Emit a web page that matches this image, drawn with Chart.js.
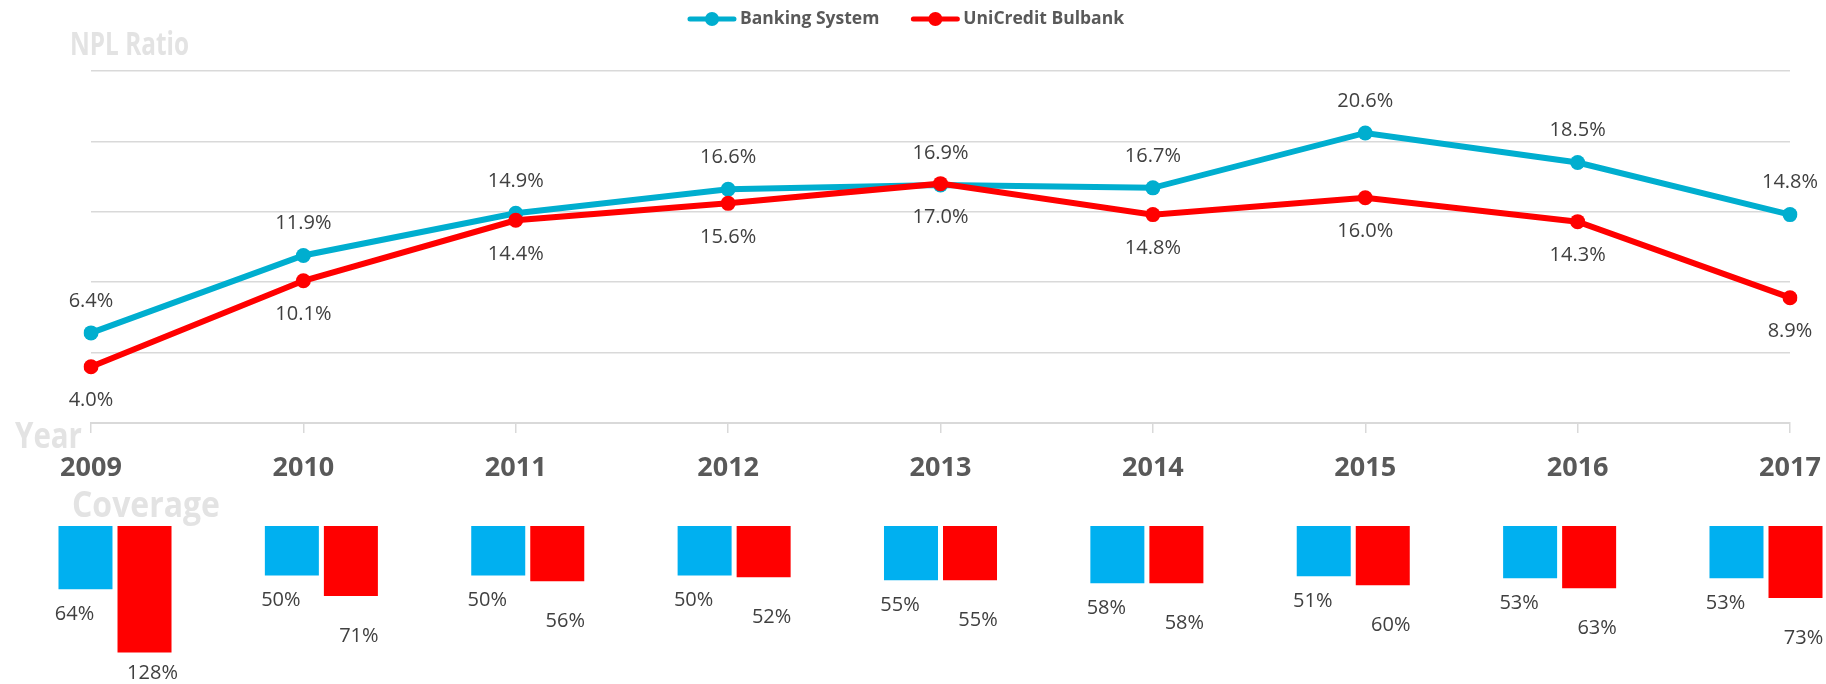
<!DOCTYPE html>
<html>
<head>
<meta charset="utf-8">
<script src="https://cdn.jsdelivr.net/npm/chart.js@4"></script>
<style>
  html, body { margin: 0; padding: 0; background: #fff; overflow: hidden; }
  canvas { position: absolute; left: 0; top: 0; }
</style>
</head>
<body>
<canvas id="coverage" width="1826" height="684"></canvas>
<canvas id="npl" width="1826" height="684"></canvas>
<script>
// data
const years = ['2009', '2010', '2011', '2012', '2013', '2014', '2015', '2016', '2017'];
const bankingNpl = [6.4, 11.9, 14.9, 16.6, 16.9, 16.7, 20.6, 18.5, 14.8];
const bulbankNpl = [4.0, 10.1, 14.4, 15.6, 17.0, 14.8, 16.0, 14.3, 8.9];
const bankingCoverage = [64, 50, 50, 50, 55, 58, 51, 53, 53];
const bulbankCoverage = [128, 71, 56, 52, 55, 58, 60, 63, 73];

const FONT = '"Open Sans", "Liberation Sans", sans-serif';
const blueLine = '#00AECF';
const blueBar = '#00B0F0';
const red = '#FF0000';
const gridColor = '#D9D9D9';
const labelColor = '#404040';
const faint = '#E3E3E3';

// gray captions, squeezed to the width they have in the picture
function caption(ctx, text, x, baseline, size, width) {
    ctx.save();
    ctx.font = 'bold ' + size + 'px ' + FONT;
    const w = ctx.measureText(text).width;
    ctx.translate(x, baseline);
    ctx.scale(width / w, 1);
    ctx.fillStyle = faint;
    ctx.textBaseline = 'alphabetic';
    ctx.textAlign = 'left';
    ctx.fillText(text, 0, 0);
    ctx.restore();
}

const captions = {
    id: 'captions',
    beforeDraw(chart) {
        const ctx = chart.ctx;
        caption(ctx, 'NPL Ratio', 70, 55, 33, 119);
        caption(ctx, 'Year', 15, 448, 35, 67);
        caption(ctx, 'Coverage', 72, 517, 35, 148);
    }
};

// legend: line with a dot, then bold text
const lineLegend = {
    id: 'lineLegend',
    afterDraw(chart) {
        const ctx = chart.ctx;
        const ds = chart.data.datasets;
        ctx.save();
        ctx.font = 'bold 17.5px ' + FONT;
        const markW = 48, gapText = 4, gapItem = 32;
        let total = 0;
        ds.forEach((d, i) => {
            total += markW + gapText + ctx.measureText(d.label).width;
            if (i < ds.length - 1) total += gapItem;
        });
        let x = 906 - total / 2;
        const y = 19;
        ds.forEach(d => {
            ctx.strokeStyle = d.borderColor;
            ctx.lineWidth = 5;
            ctx.lineCap = 'round';
            ctx.beginPath();
            ctx.moveTo(x + 2, y);
            ctx.lineTo(x + markW - 2, y);
            ctx.stroke();
            ctx.fillStyle = d.borderColor;
            ctx.beginPath();
            ctx.arc(x + markW / 2, y, 7, 0, Math.PI * 2);
            ctx.fill();
            x += markW + gapText;
            ctx.fillStyle = '#595959';
            ctx.textBaseline = 'middle';
            ctx.textAlign = 'left';
            ctx.fillText(d.label, x, y);
            x += ctx.measureText(d.label).width + gapItem;
        });
        ctx.restore();
    }
};

// value labels next to the points
const pointLabels = {
    id: 'pointLabels',
    afterDatasetsDraw(chart) {
        const ctx = chart.ctx;
        ctx.save();
        ctx.font = '20px ' + FONT;
        ctx.fillStyle = labelColor;
        ctx.textAlign = 'center';
        ctx.textBaseline = 'middle';
        chart.data.datasets.forEach((d, i) => {
            chart.getDatasetMeta(i).data.forEach((pt, j) => {
                ctx.fillText(d.data[j].toFixed(1) + '%', pt.x, pt.y + d.labelDy);
            });
        });
        ctx.restore();
    }
};

const barLabels = {
    id: 'barLabels',
    afterDatasetsDraw(chart) {
        const ctx = chart.ctx;
        ctx.save();
        ctx.font = '20px ' + FONT;
        ctx.fillStyle = labelColor;
        ctx.textAlign = 'center';
        ctx.textBaseline = 'middle';
        chart.data.datasets.forEach((d, i) => {
            chart.getDatasetMeta(i).data.forEach((bar, j) => {
                const y = Math.min(bar.y + d.labelDy, 673);
                ctx.fillText(d.data[j] + '%', bar.x + d.labelDx, y);
            });
        });
        ctx.restore();
    }
};

new Chart(document.getElementById('npl'), {
    type: 'line',
    data: {
        labels: years,
        datasets: [
            {
                label: 'Banking System',
                data: bankingNpl,
                borderColor: blueLine,
                backgroundColor: blueLine,
                pointBackgroundColor: blueLine,
                borderWidth: 6,
                pointRadius: 7.5,
                pointBorderWidth: 0,
                order: 1,
                labelDy: -32
            },
            {
                label: 'UniCredit Bulbank',
                data: bulbankNpl,
                borderColor: red,
                backgroundColor: red,
                pointBackgroundColor: red,
                borderWidth: 6,
                pointRadius: 7.5,
                pointBorderWidth: 0,
                order: 0,
                labelDy: 34
            }
        ]
    },
    options: {
        responsive: false,
        animation: false,
        events: [],
        layout: { padding: { top: 71, left: 91, right: 36, bottom: 161 } },
        plugins: { legend: { display: false }, tooltip: { enabled: false } },
        scales: {
            x: {
                offset: false,
                grid: { drawOnChartArea: false, color: gridColor, lineWidth: 1.5, tickLength: 10 },
                border: { color: gridColor, width: 2 },
                ticks: {
                    font: { family: FONT, size: 27, weight: 'bold' },
                    color: '#595959',
                    padding: 19,
                    maxRotation: 0,
                    autoSkip: false
                },
                afterFit(scale) {
                    scale.height = 100;
                    scale.paddingLeft = 0;
                    scale.paddingRight = 0;
                }
            },
            y: {
                min: 0,
                max: 25,
                ticks: { display: false, stepSize: 5 },
                grid: { color: gridColor, lineWidth: 1.5, drawTicks: false },
                border: { display: false }
            }
        }
    },
    plugins: [captions, pointLabels, lineLegend]
});

new Chart(document.getElementById('coverage'), {
    type: 'bar',
    data: {
        labels: years,
        datasets: [
            {
                label: 'Banking System',
                data: bankingCoverage,
                backgroundColor: blueBar,
                clip: false,
                labelDx: -11,
                labelDy: 25
            },
            {
                label: 'UniCredit Bulbank',
                data: bulbankCoverage,
                backgroundColor: red,
                clip: false,
                labelDx: 8,
                labelDy: 40
            }
        ]
    },
    options: {
        responsive: false,
        animation: false,
        events: [],
        barPercentage: 0.915,
        categoryPercentage: 0.572,
        layout: { padding: { top: 526, left: 115, right: 60, bottom: 0 } },
        plugins: { legend: { display: false }, tooltip: { enabled: false } },
        scales: {
            x: { display: false, offset: false },
            y: { display: false, reverse: true, min: 0, max: 160 }
        }
    },
    plugins: [barLabels]
});
</script>
</body>
</html>
